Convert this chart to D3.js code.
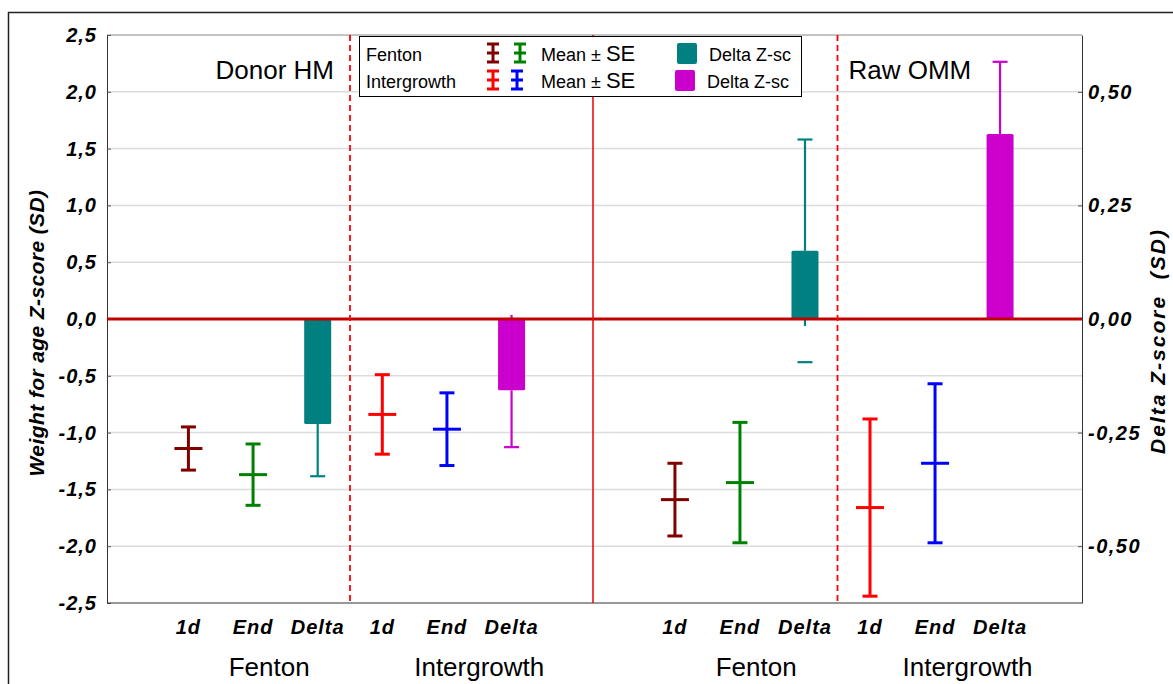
<!DOCTYPE html>
<html>
<head>
<meta charset="utf-8">
<script src="https://cdn.jsdelivr.net/npm/d3@7/dist/d3.min.js"></script>
<style>
  body { margin: 0; background: #fff; }
  text { font-family: Arial, "Liberation Sans", sans-serif; }
  .tick text { font-size: 20px; font-weight: bold; font-style: italic; letter-spacing: 1px; fill: #000; }
</style>
</head>
<body>
<svg class="chart"></svg>
<script>
// categories inside each panel
const categories = ["F1d", "FEnd", "FDelta", "I1d", "IEnd", "IDelta"]
const tickLabels = ["1d", "End", "Delta", "1d", "End", "Delta"]
const panels = ["Donor HM", "Raw OMM"]
const groups = ["Fenton", "Intergrowth"]

// mean ± SE, left axis (SD) - order F1d, FEnd, I1d, IEnd
const meanCats = ["F1d", "FEnd", "I1d", "IEnd"]
const donorMean = [-1.14, -1.37, -0.84, -0.97]
const donorSE = [0.19, 0.27, 0.35, 0.32]
const ommMean = [-1.59, -1.44, -1.66, -1.27]
const ommSE = [0.32, 0.53, 0.78, 0.70]

// delta Z-score, right axis - [Fenton, Intergrowth] per panel
const deltaCats = ["FDelta", "IDelta"]
const donorDelta = [-0.231, -0.157]
const donorDeltaSE = [0.115, 0.125]
const ommDelta = [0.150, 0.407]
const ommDeltaSE = [0.245, 0.159]

const leftTicks = [-2.5, -2, -1.5, -1, -0.5, 0, 0.5, 1, 1.5, 2, 2.5]
const rightTicks = [-0.5, -0.25, 0, 0.25, 0.5]

const meanColors = ["#800000", "#008000", "#ff0000", "#0000ff"]
const deltaColors = ["#008080", "#cc00cc"]

const width = 1173, height = 684
const plot = { left: 107, right: 1082, top: 35, bottom: 603, split: 593 }

const svg = d3.select(".chart")
    .attr("width", width)
    .attr("height", height)

const locale = d3.formatLocale({ decimal: ",", thousands: ".", grouping: [3], currency: ["", ""], minus: "-" })

const y = d3.scaleLinear().domain([-2.5, 2.5]).range([plot.bottom, plot.top])
const y2 = d3.scaleLinear().domain([-0.625, 0.625]).range([plot.bottom, plot.top])

const xPanels = [
  d3.scalePoint().domain(categories).range([plot.left, plot.split]).padding(1.26),
  d3.scalePoint().domain(categories).range([plot.split, plot.right]).padding(1.26)
]

// outer frame
svg.append("rect")
    .attr("x", 8.5).attr("y", 12.5)
    .attr("width", 1200).attr("height", 700)
    .attr("fill", "none").attr("stroke", "#222").attr("stroke-width", 1.5)

// grid
svg.append("g").selectAll("line")
  .data(leftTicks.filter(d => d !== 0 && Math.abs(d) < 2.5))
  .enter().append("line")
    .attr("x1", plot.left).attr("x2", plot.right)
    .attr("y1", d => y(d)).attr("y2", d => y(d))
    .attr("stroke", "#dcdcdc").attr("stroke-width", 1.5)

// top border
svg.append("line")
    .attr("x1", plot.left).attr("x2", plot.right)
    .attr("y1", plot.top).attr("y2", plot.top)
    .attr("stroke", "#888")

// axes
const leftAxis = svg.append("g")
    .attr("transform", "translate(" + plot.left + ",0)")
    .call(d3.axisLeft(y).tickValues(leftTicks).tickSizeInner(-4).tickSizeOuter(0).tickPadding(10)
      .tickFormat(locale.format(".1f")))
leftAxis.select(".domain").attr("stroke", "#333")
leftAxis.selectAll(".tick line").attr("stroke", "#555")

const rightAxis = svg.append("g")
    .attr("transform", "translate(" + plot.right + ",0)")
    .call(d3.axisRight(y2).tickValues(rightTicks).tickSizeInner(-4).tickSizeOuter(0).tickPadding(6)
      .tickFormat(locale.format(".2f")))
rightAxis.select(".domain").attr("stroke", "#333")
rightAxis.selectAll(".tick line").attr("stroke", "#555")
rightAxis.selectAll(".tick text").style("letter-spacing", "1.5px")

svg.append("line")
    .attr("x1", plot.left).attr("x2", plot.right)
    .attr("y1", plot.bottom).attr("y2", plot.bottom)
    .attr("stroke", "#333")

// axis titles
svg.append("text")
    .attr("transform", "translate(44," + ((plot.top + plot.bottom) / 2 + 14) + ") rotate(-90)")
    .attr("text-anchor", "middle")
    .style("font-size", "21px").style("font-weight", "bold").style("font-style", "italic")
    .style("letter-spacing", "0.4px")
    .text("Weight for age Z-score (SD)")

svg.append("text")
    .attr("transform", "translate(1165," + ((plot.top + plot.bottom) / 2 + 22) + ") rotate(-90)")
    .attr("text-anchor", "middle")
    .style("font-size", "21px").style("font-weight", "bold").style("font-style", "italic")
    .style("letter-spacing", "2px")
    .text("Delta Z-score \u00a0(SD)")

const panelData = [
  { mean: donorMean, se: donorSE, delta: donorDelta, dse: donorDeltaSE },
  { mean: ommMean, se: ommSE, delta: ommDelta, dse: ommDeltaSE }
]

panelData.forEach((p, pi) => {
  const x = xPanels[pi]
  const g = svg.append("g").attr("class", "panel")

  // mean ± SE
  const eb = g.selectAll(".eb")
    .data(p.mean.map((m, i) => ({ cat: meanCats[i], m: m, se: p.se[i], color: meanColors[i] })))
    .enter().append("g")
      .attr("stroke", d => d.color).attr("stroke-width", 3)

  eb.append("line")
      .attr("x1", d => x(d.cat)).attr("x2", d => x(d.cat))
      .attr("y1", d => y(d.m + d.se)).attr("y2", d => y(d.m - d.se))
  eb.append("line")
      .attr("x1", d => x(d.cat) - 7.5).attr("x2", d => x(d.cat) + 7.5)
      .attr("y1", d => y(d.m + d.se)).attr("y2", d => y(d.m + d.se))
  eb.append("line")
      .attr("x1", d => x(d.cat) - 7.5).attr("x2", d => x(d.cat) + 7.5)
      .attr("y1", d => y(d.m - d.se)).attr("y2", d => y(d.m - d.se))
  eb.append("line")
      .attr("x1", d => x(d.cat) - 14).attr("x2", d => x(d.cat) + 14)
      .attr("y1", d => y(d.m)).attr("y2", d => y(d.m))

  // delta bars with SE whiskers
  const dd = p.delta.map((m, i) => ({ cat: deltaCats[i], m: m, se: p.dse[i], color: deltaColors[i] }))
  const wh = g.selectAll(".wh").data(dd).enter().append("g")
      .attr("stroke", d => d.color).attr("stroke-width", 2.2)

  const outer = d => d.m + Math.sign(d.m) * d.se
  const inner = d => d.m - Math.sign(d.m) * d.se

  wh.append("line")
      .attr("x1", d => x(d.cat)).attr("x2", d => x(d.cat))
      .attr("y1", d => y2(d.m)).attr("y2", d => y2(outer(d)))
  wh.append("line")
      .attr("x1", d => x(d.cat) - 7.5).attr("x2", d => x(d.cat) + 7.5)
      .attr("y1", d => y2(outer(d))).attr("y2", d => y2(outer(d)))
  wh.append("line")
      .attr("x1", d => x(d.cat) - 7.5).attr("x2", d => x(d.cat) + 7.5)
      .attr("y1", d => y2(inner(d))).attr("y2", d => y2(inner(d)))
  // short stub across the zero line when the inner whisker reaches it
  wh.filter(d => Math.abs(inner(d)) < 0.1).append("line")
      .attr("x1", d => x(d.cat)).attr("x2", d => x(d.cat))
      .attr("y1", y2(0)).attr("y2", d => y2(0) + (d.m > 0 ? 7 : -4))

  g.selectAll(".bar").data(dd).enter().append("rect")
      .attr("x", d => x(d.cat) - 13.5)
      .attr("width", 27)
      .attr("y", d => y2(Math.max(0, d.m)))
      .attr("height", d => Math.abs(y2(d.m) - y2(0)))
      .attr("rx", 1.5)
      .attr("fill", d => d.color)

  // x labels
  g.selectAll(".xl").data(categories).enter().append("text")
      .attr("x", d => x(d)).attr("y", 634)
      .attr("text-anchor", "middle")
      .style("font-size", "20px").style("font-weight", "bold").style("font-style", "italic")
      .style("letter-spacing", "1px")
      .text((d, i) => tickLabels[i])

  const groupOffset = [0.25, 0.5]
  g.selectAll(".gl").data(groups).enter().append("text")
      .attr("x", (d, i) => x(categories[i * 3 + 1]) + groupOffset[i] * x.step())
      .attr("y", 676)
      .attr("text-anchor", "middle")
      .style("font-size", "26px")
      .text(d => d)
})

// zero line
svg.append("line")
    .attr("x1", plot.left).attr("x2", plot.right)
    .attr("y1", y(0)).attr("y2", y(0))
    .attr("stroke", "#c00000").attr("stroke-width", 3)

// separators
const dashX = xPanels.map(x => (x("FDelta") + x("I1d")) / 2)
svg.append("g").selectAll("line").data(dashX).enter().append("line")
    .attr("x1", d => d).attr("x2", d => d)
    .attr("y1", plot.top).attr("y2", plot.bottom)
    .attr("stroke", "#ff0000").attr("stroke-width", 1.8).attr("stroke-dasharray", "6,4")

svg.append("line")
    .attr("x1", plot.split).attr("x2", plot.split)
    .attr("y1", plot.top).attr("y2", plot.bottom)
    .attr("stroke", "#ee0000").attr("stroke-width", 1.5)

// panel titles
svg.append("text")
    .attr("x", dashX[0] - 16).attr("y", 79)
    .attr("text-anchor", "end")
    .style("font-size", "26px")
    .text(panels[0])
svg.append("text")
    .attr("x", dashX[1] + 11).attr("y", 79)
    .attr("text-anchor", "start")
    .style("font-size", "26px")
    .text(panels[1])

// legend
const legend = svg.append("g").attr("class", "legend")
legend.append("rect")
    .attr("x", 359.5).attr("y", 36.5)
    .attr("width", 442).attr("height", 60)
    .attr("fill", "#fff").attr("stroke", "#000")

const rows = [
  { name: groups[0], cy: 53, base: 60.5, icons: [[493, meanColors[0]], [520, meanColors[1]]], sq: 677, sqColor: deltaColors[0], tx: 709 },
  { name: groups[1], cy: 80, base: 88, icons: [[493, meanColors[2]], [517, meanColors[3]]], sq: 675, sqColor: deltaColors[1], tx: 707 }
]

rows.forEach((r) => {
  legend.append("text").attr("x", 366).attr("y", r.base).style("font-size", "18px").text(r.name)
  r.icons.forEach(([ix, c]) => {
    const ic = legend.append("g").attr("stroke", c).attr("stroke-width", 3)
    ic.append("line").attr("x1", ix).attr("x2", ix).attr("y1", r.cy - 9).attr("y2", r.cy + 9)
    ic.append("line").attr("x1", ix - 6).attr("x2", ix + 6).attr("y1", r.cy - 9).attr("y2", r.cy - 9)
    ic.append("line").attr("x1", ix - 6).attr("x2", ix + 6).attr("y1", r.cy + 9).attr("y2", r.cy + 9)
    ic.append("line").attr("x1", ix - 6).attr("x2", ix + 6).attr("y1", r.cy).attr("y2", r.cy)
  })
  const mt = legend.append("text").attr("x", 541).attr("y", r.base).style("font-size", "18px")
  mt.append("tspan").text("Mean ± ")
  mt.append("tspan").style("font-size", "22px").text("SE")
  legend.append("rect")
      .attr("x", r.sq).attr("y", r.cy - 10)
      .attr("width", 20).attr("height", 21).attr("rx", 2)
      .attr("fill", r.sqColor)
  legend.append("text").attr("x", r.tx).attr("y", r.base).style("font-size", "18px").text("Delta Z-sc")
})
</script>
</body>
</html>
